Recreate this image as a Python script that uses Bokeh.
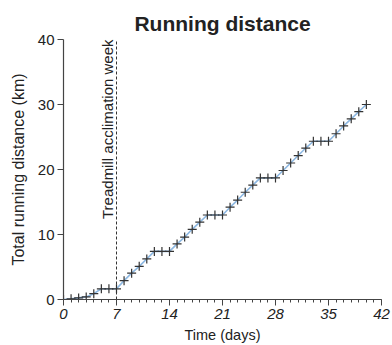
import math
from bokeh.plotting import figure
from bokeh.models import FixedTicker, Range1d, ColumnDataSource
from bokeh.core.properties import value
from bokeh.embed import file_html
from bokeh.resources import INLINE

days = list(range(0, 41))
distance = [0.0, 0.1, 0.25, 0.4, 0.9, 1.65, 1.65, 1.65, 2.9, 4.05, 5.1, 6.25, 7.4, 7.4, 7.4,
            8.55, 9.6, 10.8, 11.9, 13.0, 13.0, 13.0, 14.2, 15.3, 16.5, 17.6, 18.7, 18.7, 18.7,
            19.85, 21.0, 22.15, 23.3, 24.35, 24.35, 24.35, 25.5, 26.7, 27.8, 28.9, 30.0]
x_ticks = [0, 7, 14, 21, 28, 35, 42]
y_ticks = [0, 10, 20, 30, 40]
acclimation_day = 7
annotation = "Treadmill acclimation week"

FONT = "Liberation Sans"
AX = "#444444"

p = figure(width=392, height=345, output_backend="svg", toolbar_location=None,
           x_range=Range1d(0, 42), y_range=Range1d(0, 40),
           min_border_left=63, min_border_right=11, min_border_top=39, min_border_bottom=46,
           frame_width=318, frame_height=260)
p.title.text = "Running distance"
p.title.align = "center"
p.title.text_font = FONT
p.title.text_font_size = "21px"
p.title.text_font_style = "bold"
p.title.text_color = "#222222"
p.title.offset = 0
p.outline_line_color = None
p.xgrid.visible = False
p.ygrid.visible = False
p.background_fill_color = "white"
p.border_fill_color = "white"

src = ColumnDataSource(dict(day=days, dist=distance))
p.line("day", "dist", source=src, line_color="#8db8e2", line_width=1.6)
p.scatter("day", "dist", source=src, marker="cross", size=9, line_color="#333333", line_width=1.2)

p.segment(x0=[acclimation_day], y0=[0], x1=[acclimation_day], y1=[40],
          line_color="#333333", line_width=1, line_dash="3 2")
p.text(x=[acclimation_day], y=[40], text=[annotation], angle=math.pi / 2,
       text_align="right", text_baseline="bottom", x_offset=-1,
       text_font=value(FONT), text_font_size="15px", text_color="#222222")

xa = p.xaxis[0]
xa.ticker = FixedTicker(ticks=x_ticks, minor_ticks=list(range(0, 43)))
xa.axis_label = "Time (days)"
xa.major_label_text_font_style = "italic"
ya = p.yaxis[0]
ya.ticker = FixedTicker(ticks=y_ticks, minor_ticks=[])
ya.axis_label = "Total running distance (km)"

for ax in (xa, ya):
    ax.axis_line_color = AX
    ax.axis_line_width = 1.2
    ax.major_tick_line_color = AX
    ax.minor_tick_line_color = AX
    ax.major_tick_in = 0
    ax.major_tick_out = 6
    ax.minor_tick_in = 0
    ax.minor_tick_out = 3
    ax.major_label_text_font = FONT
    ax.major_label_text_font_size = "15px"
    ax.major_label_text_color = "#222222"
    ax.axis_label_text_font = FONT
    ax.axis_label_text_font_style = "normal"
    ax.axis_label_text_color = "#222222"
    ax.major_label_standoff = 3
xa.axis_label_text_font_size = "14.5px"
xa.axis_label_standoff = 5
ya.axis_label_text_font_size = "16px"
ya.axis_label_standoff = 8

open("out.html", "w").write(file_html(p, INLINE))
